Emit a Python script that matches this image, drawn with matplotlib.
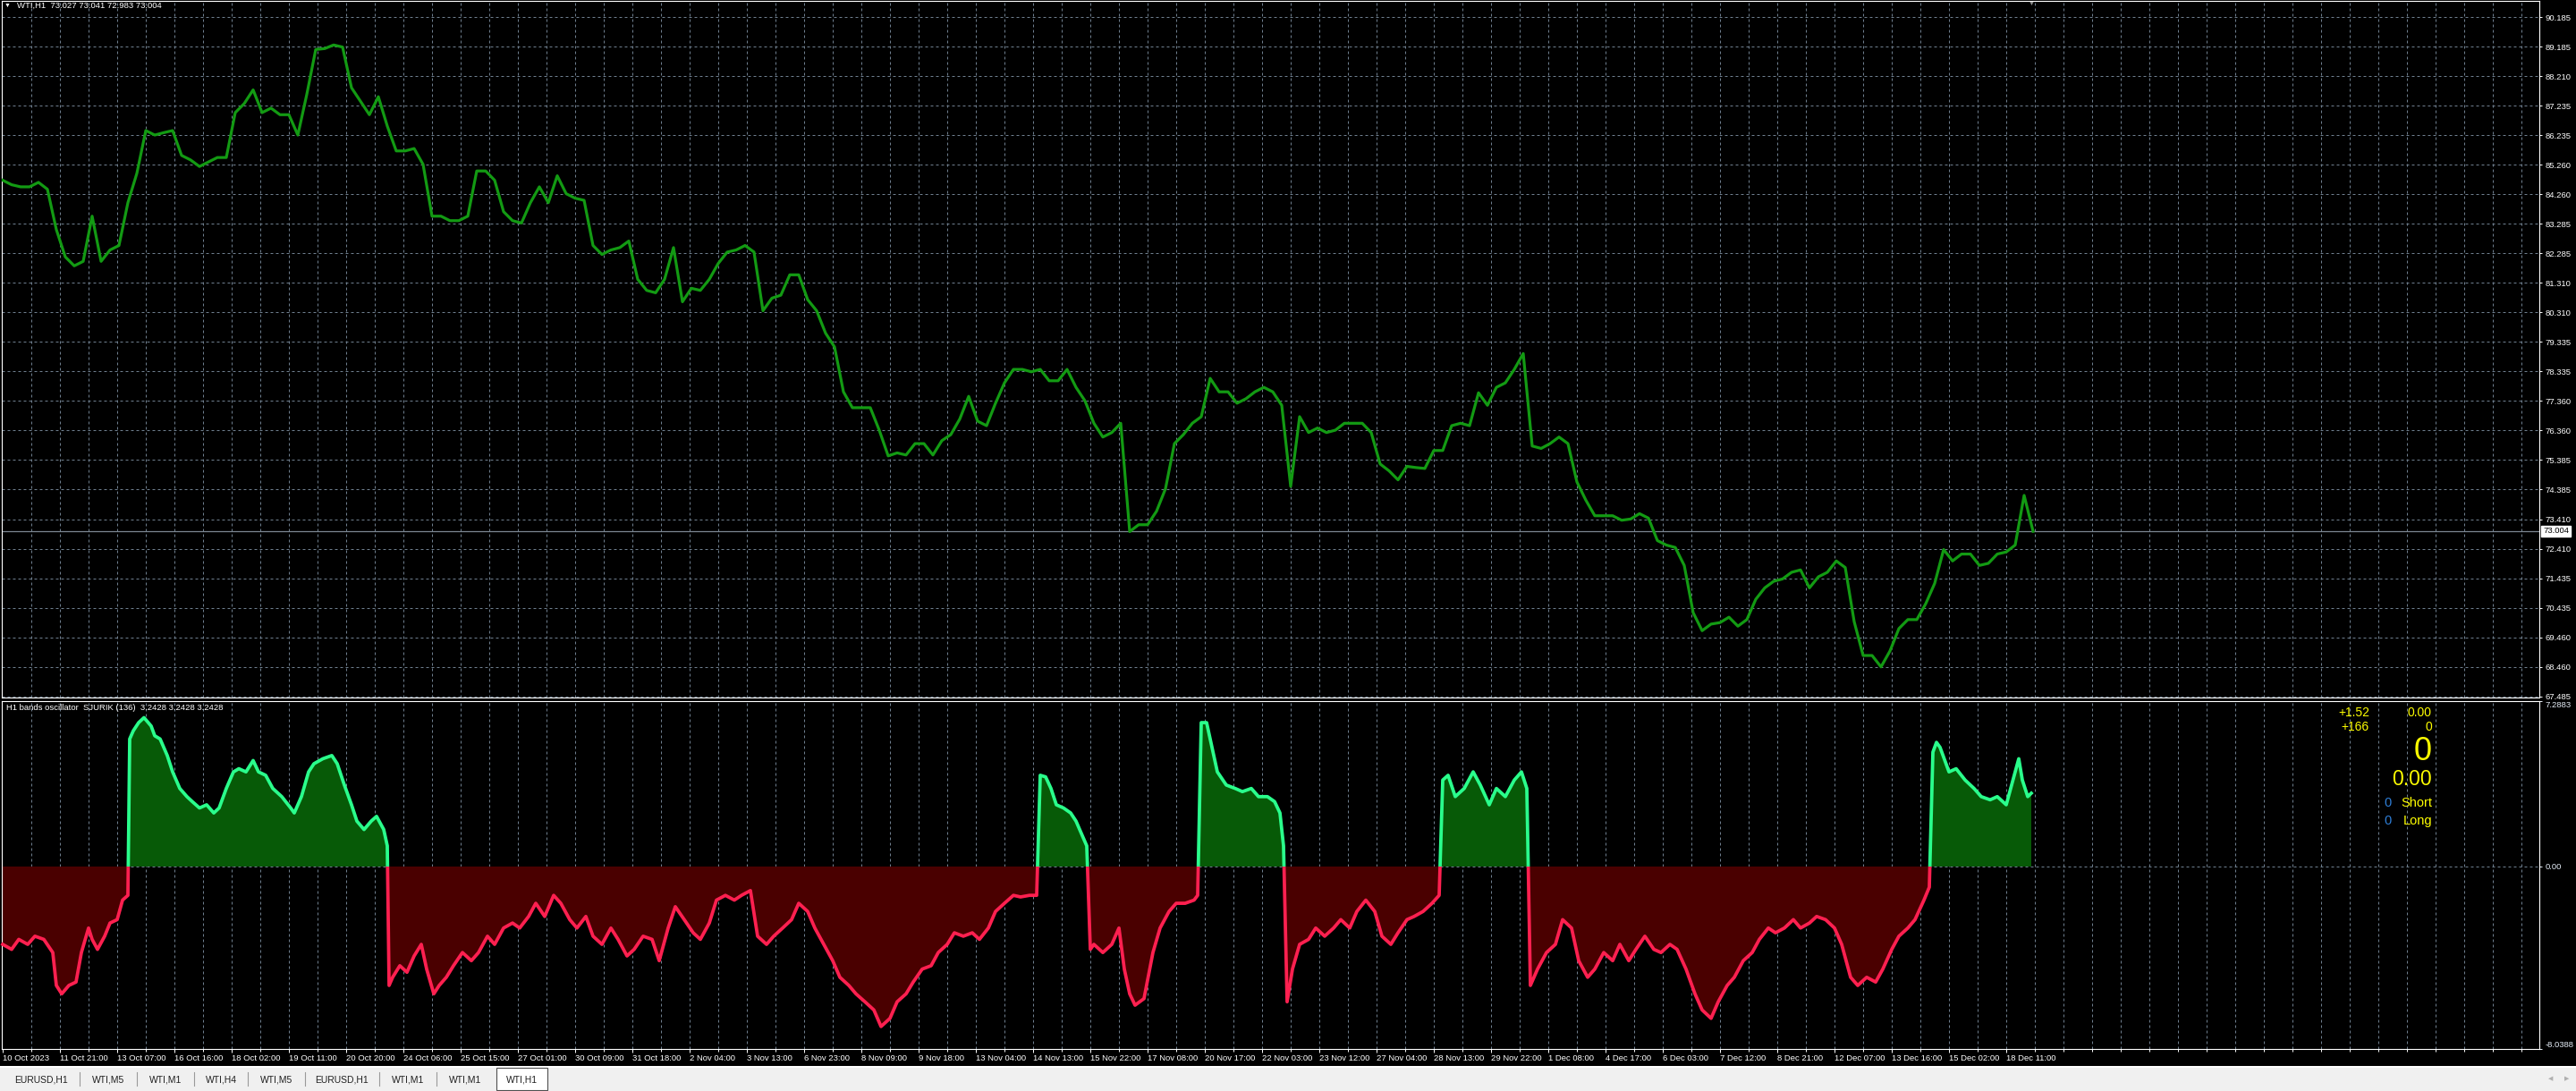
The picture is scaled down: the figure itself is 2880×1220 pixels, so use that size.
#import relevant libraries
import numpy as np
import matplotlib
matplotlib.use('Agg')
import matplotlib.pyplot as plt
from matplotlib.patches import Rectangle
from matplotlib.lines import Line2D

plt.rcParams['font.family'] = ['Liberation Sans', 'DejaVu Sans']

#price data, one value every 5 hourly bars
price_close = [
    84.73, 84.58, 84.51, 84.51, 84.66, 84.43, 83.08, 82.17, 81.87, 82.02,
    83.53, 82.02, 82.40, 82.55, 83.98, 84.96, 86.39, 86.24, 86.32, 86.39,
    85.56, 85.41, 85.19, 85.34, 85.49, 85.49, 86.99, 87.29, 87.75, 86.99,
    87.14, 86.92, 86.92, 86.24, 87.60, 89.10, 89.13, 89.25, 89.18, 87.82,
    87.37, 86.92, 87.52, 86.54, 85.71, 85.71, 85.79, 85.26, 83.53, 83.53,
    83.38, 83.38, 83.53, 85.04, 85.04, 84.73, 83.68, 83.38, 83.30, 83.98,
    84.51, 83.98, 84.88, 84.28, 84.13, 84.06, 82.55, 82.25, 82.40, 82.48,
    82.70, 81.42, 81.05, 80.97, 81.42, 82.48,
    80.67, 81.12, 81.05, 81.42, 81.95, 82.33, 82.40, 82.55, 82.33, 80.37,
    80.79, 80.89, 81.57, 81.57, 80.74, 80.37, 79.62, 79.16, 77.66, 77.13,
    77.13, 77.13, 76.38, 75.52, 75.62, 75.55, 75.93, 75.93, 75.55, 76.03,
    76.23, 76.75, 77.51, 76.68, 76.53, 77.28, 77.96, 78.41, 78.41, 78.33,
    78.41, 78.03, 78.03, 78.41, 77.81, 77.36, 76.61, 76.15, 76.30, 76.61,
    72.99, 73.22, 73.22, 73.67, 74.42, 75.93, 76.23, 76.61, 76.83, 78.11,
    77.66, 77.66, 77.28, 77.43, 77.66, 77.81, 77.66, 77.21, 74.50, 76.83,
    76.30, 76.45, 76.30, 76.38, 76.61, 76.61,
    76.61, 76.30, 75.25, 75.02, 74.72, 75.17, 75.13, 75.10, 75.70, 75.70,
    76.53, 76.61, 76.53, 77.63, 77.21, 77.81, 77.96, 78.41, 78.94, 75.85,
    75.77, 75.93, 76.15, 75.93, 74.65, 74.04, 73.52, 73.52, 73.52, 73.37,
    73.41, 73.59, 73.44, 72.69, 72.54, 72.46, 71.86, 70.28, 69.68, 69.90,
    69.95, 70.13, 69.83, 70.05, 70.73, 71.11, 71.33, 71.41, 71.63, 71.71,
    71.11, 71.48, 71.63, 72.01, 71.79, 69.98, 68.85, 68.85, 68.47, 69.00,
    69.75, 70.05, 70.05, 70.58, 71.26, 72.39, 72.01, 72.24, 72.24, 71.86,
    71.93, 72.24, 72.31, 72.54, 74.20, 73.00,
]
price_bars = np.arange(len(price_close)) * 5
last_price = 73.004

#oscillator data (bar index, value)
osc_bars = [
    0, 5, 9, 14, 18, 23, 28, 30, 33, 37,
    41, 44, 48, 50, 53, 57, 60, 64, 67, 70,
    71, 73, 76, 79, 83, 85, 88, 92, 95, 99,
    103, 106, 110, 114, 118, 121, 125, 129, 132, 136,
    140, 143, 147, 151, 156, 161, 163, 167, 171, 174,
    179, 184, 187, 191, 195, 198, 202, 206, 209, 213,
    215, 216, 218, 222, 226, 230, 234, 237, 241, 244,
    248, 252, 257, 262, 266, 271, 275, 280, 285, 289,
    294, 298, 303, 308, 312, 317, 321, 326, 330, 335,
    340, 344, 349, 353, 358, 363, 367, 372, 376, 381,
    386, 390, 395, 399, 404, 409, 413, 418, 422, 427,
    431, 436, 441, 445, 450, 454, 459, 464, 468, 473,
    477, 482, 487, 491, 496, 500, 505, 509, 514, 519,
    523, 528, 532, 537, 542, 546, 551, 555, 560, 565,
    569, 574, 578, 580, 583, 586, 589, 593, 597, 600,
    604, 606, 608, 610, 615, 620, 624, 627, 630, 633,
    638, 643, 647, 652, 656, 661, 666, 668, 670, 673,
    676, 679, 684, 689, 693, 698, 702, 707, 711, 714,
    716, 718, 721, 725, 730, 734, 739, 744, 748, 753,
    757, 762, 767, 771, 776, 780, 785, 789, 794, 799,
    803, 805, 808, 812, 817, 822, 826, 831, 835, 840,
    845, 849, 852, 854, 858, 863, 868, 872, 877, 881,
    886, 890, 895, 900, 904, 909, 913, 918, 923, 927,
    932, 936, 941, 946, 950, 955, 959, 964, 968, 973,
    978, 982, 987, 991, 996, 1001, 1005, 1010, 1014, 1019,
    1024, 1028, 1033, 1037, 1042, 1047, 1051, 1056, 1060, 1065,
    1069, 1074, 1077, 1079, 1081, 1083, 1088, 1092, 1097, 1102,
    1106, 1111, 1115, 1120, 1125, 1127, 1129, 1132, 1134,
]
osc_values = [
    -3.43, -3.65, -3.21, -3.43, -3.07, -3.21, -3.79, -5.24, -5.61, -5.24,
    -5.09, -3.79, -2.71, -3.21, -3.65, -3.07, -2.49, -2.34, -1.48, -1.27,
    5.62, 5.98, 6.34, 6.56, 6.19, 5.76, 5.62, 4.89, 4.17, 3.44,
    3.08, 2.86, 2.58, 2.72, 2.36, 2.58, 3.44, 4.17, 4.31, 4.17,
    4.67, 4.17, 4.02, 3.44, 3.08, 2.58, 2.36, 3.08, 4.17, 4.53,
    4.75, 4.89, 4.53, 3.59, 2.72, 2.00, 1.63, 2.00, 2.21, 1.63,
    0.91, -5.24, -4.88, -4.37, -4.66, -3.94, -3.43, -4.52, -5.61, -5.24,
    -4.88, -4.37, -3.79, -4.15, -3.79, -3.07, -3.43, -2.71, -2.49, -2.71,
    -2.20, -1.62, -2.20, -1.27, -1.62, -2.34, -2.71, -2.20, -3.07, -3.43,
    -2.71, -3.21, -3.94, -3.65, -3.07, -3.21, -4.15, -2.71, -1.77, -2.34,
    -2.92, -3.21, -2.49, -1.48, -1.27, -1.48, -1.27, -1.06, -3.07, -3.43,
    -3.07, -2.71, -2.34, -1.62, -1.98, -2.71, -3.43, -4.15, -4.88, -5.24,
    -5.61, -5.96, -6.32, -7.05, -6.69, -5.96, -5.61, -5.09, -4.52, -4.37,
    -3.79, -3.43, -2.92, -3.07, -2.92, -3.21, -2.71, -1.98, -1.62, -1.27,
    -1.34, -1.27, -1.27, 4.02, 3.95, 3.44, 2.72, 2.58, 2.36, 2.00,
    1.27, 0.91, -3.65, -3.43, -3.79, -3.43, -2.71, -4.52, -5.61, -6.11,
    -5.82, -3.79, -2.71, -1.98, -1.62, -1.62, -1.48, -1.27, 6.34, 6.34,
    5.25, 4.17, 3.59, 3.44, 3.30, 3.44, 3.08, 3.08, 2.86, 2.36,
    0.91, -5.96, -4.52, -3.43, -3.21, -2.71, -3.07, -2.71, -2.34, -2.71,
    -1.98, -1.48, -1.98, -3.07, -3.43, -2.92, -2.34, -2.20, -1.98, -1.62,
    -1.27, 3.81, 4.02, 3.08, 3.44, 4.17, 3.59, 2.72, 3.44, 3.08,
    3.81, 4.17, 3.44, -5.24, -4.52, -3.79, -3.43, -2.34, -2.71, -4.15,
    -4.88, -4.52, -3.79, -4.15, -3.43, -4.15, -3.65, -3.07, -3.65, -3.79,
    -3.43, -3.65, -4.52, -5.61, -6.32, -6.69, -5.96, -5.24, -4.88, -4.15,
    -3.79, -3.21, -2.71, -2.92, -2.71, -2.34, -2.71, -2.49, -2.20, -2.34,
    -2.71, -3.43, -4.88, -5.24, -4.88, -5.09, -4.52, -3.65, -3.07, -2.71,
    -2.34, -1.48, -0.91, 5.04, 5.47, 5.25, 4.17, 4.31, 3.81, 3.44,
    3.08, 2.94, 3.08, 2.72, 4.17, 4.75, 3.81, 3.08, 3.23,
]
osc_max = 7.2883
osc_min = -8.0388

#axis labels
price_tick_labels = ['67.485', '68.460', '69.460', '70.435', '71.435', '72.410',
                     '73.410', '74.385', '75.385', '76.360', '77.360', '78.335',
                     '79.335', '80.310', '81.310', '82.285', '83.285', '84.260',
                     '85.260', '86.235', '87.235', '88.210', '89.185', '90.185']
time_labels = ['10 Oct 2023', '11 Oct 21:00', '13 Oct 07:00', '16 Oct 16:00', '18 Oct 02:00',
               '19 Oct 11:00', '20 Oct 20:00', '24 Oct 06:00', '25 Oct 15:00', '27 Oct 01:00',
               '30 Oct 09:00', '31 Oct 18:00', '2 Nov 04:00', '3 Nov 13:00', '6 Nov 23:00',
               '8 Nov 09:00', '9 Nov 18:00', '13 Nov 04:00', '14 Nov 13:00', '15 Nov 22:00',
               '17 Nov 08:00', '20 Nov 17:00', '22 Nov 03:00', '23 Nov 12:00', '27 Nov 04:00',
               '28 Nov 13:00', '29 Nov 22:00', '1 Dec 08:00', '4 Dec 17:00', '6 Dec 03:00',
               '7 Dec 12:00', '8 Dec 21:00', '12 Dec 07:00', '13 Dec 16:00', '15 Dec 02:00',
               '18 Dec 11:00']
tab_names = ['EURUSD,H1', 'WTI,M5', 'WTI,M1', 'WTI,H4', 'WTI,M5', 'EURUSD,H1', 'WTI,M1', 'WTI,M1', 'WTI,H1']

#pixel helpers
W, H = 2880, 1220
def fx(x):
    return x / W
def fy(y):
    return 1 - y / H

fig = plt.figure(figsize=(28.8, 12.2), dpi=100, facecolor='black')
ax_p = fig.add_axes([fx(2), fy(780), 2837 / W, 779 / H], facecolor='black')
ax_o = fig.add_axes([fx(2), fy(1173), 2837 / W, 389 / H], facecolor='black')

grid_color = '#6f7f8f'
grid_style = (0, (3, 3))

#price panel
ax_p.plot(price_bars, price_close, color='#139a13', lw=2.3, zorder=3)
ax_p.axhline(last_price, color='#7c8792', lw=0.9, zorder=2)
ax_p.set_xlim(-0.5, 1418)
ax_p.set_ylim(67.446, 90.723)
ax_p.yaxis.tick_right()
ax_p.set_yticks(np.linspace(67.485, 90.185, len(price_tick_labels)))
ax_p.set_yticklabels(price_tick_labels)
ax_p.set_xticks(np.arange(16, 1418, 16))
ax_p.tick_params(axis='x', bottom=False, labelbottom=False)
ax_p.tick_params(axis='y', colors='white', labelsize=6.8, length=2, width=0.7, pad=3)
ax_p.grid(True, color=grid_color, lw=0.72, linestyle=grid_style)
ax_p.set_axisbelow(True)
for sp in ax_p.spines.values():
    sp.set_color('white')
    sp.set_linewidth(0.8)
ax_p.text(1.0 + 4 / 2837, last_price, '73.004', transform=ax_p.get_yaxis_transform(),
          ha='left', va='center', fontsize=6.8, color='black',
          bbox=dict(boxstyle='square,pad=0.2', fc='white', ec='white'))

#oscillator panel
osc = np.array(osc_values)
ax_o.axhline(0, color=grid_color, lw=0.72, linestyle=grid_style, zorder=0)
ax_o.fill_between(osc_bars, osc, 0, where=osc >= 0, interpolate=True, color='#075a07', lw=0, zorder=1)
ax_o.fill_between(osc_bars, osc, 0, where=osc <= 0, interpolate=True, color='#4a0000', lw=0, zorder=1)
red_line, = ax_o.plot(osc_bars, osc, color='#ff2050', lw=2.7, zorder=3)
green_line, = ax_o.plot(osc_bars, osc, color='#2aff8c', lw=2.7, zorder=3)
green_line.set_clip_path(Rectangle((-10, 0), 2000, 20, transform=ax_o.transData))
red_line.set_clip_path(Rectangle((-10, -20), 2000, 20, transform=ax_o.transData))
ax_o.set_xlim(-0.5, 1418)
ax_o.set_ylim(osc_min, osc_max)
ax_o.set_xticks(np.arange(len(time_labels)) * 32)
ax_o.set_xticklabels(time_labels)
ax_o.set_xticks(np.arange(16, 1418, 16), minor=True)
ax_o.xaxis.remove_overlapping_locs = False
ax_o.grid(True, which='minor', axis='x', color=grid_color, lw=0.72, linestyle=grid_style)
ax_o.set_axisbelow(True)
ax_o.tick_params(axis='x', which='major', colors='white', labelsize=6.8, length=3, width=0.7, pad=1.5)
ax_o.tick_params(axis='x', which='minor', colors='white', length=2, width=0.7)
for lbl in ax_o.get_xticklabels():
    lbl.set_ha('left')
ax_o.yaxis.tick_right()
ax_o.set_yticks([osc_max, 0, osc_min])
ax_o.set_yticklabels(['7.2883', '0.00', '-8.0388'])
ax_o.tick_params(axis='y', colors='#e6eef8', labelsize=6.8, length=2, width=0.7, pad=3)
ylbls = ax_o.get_yticklabels()
ylbls[0].set_va('top')
ylbls[2].set_va('bottom')
for sp in ax_o.spines.values():
    sp.set_color('white')
    sp.set_linewidth(0.8)

#header texts
fig.text(fx(5), fy(6), '\u25bc', color='white', fontsize=5, va='center')
fig.text(fx(19), fy(6), 'WTI,H1  73.027 73.041 72.983 73.004', color='white', fontsize=6.8, va='center')
fig.text(fx(7), fy(792), 'H1 bands oscillator  SJURIK (136)  3.2428 3.2428 3.2428',
         color='white', fontsize=6.8, va='center')
fig.text(fx(2271), fy(1), '\u25bc', color='#909090', fontsize=5, ha='center', va='top')

#info block on the oscillator
yel = '#ffff00'
blu = '#2f7fd8'
fig.text(fx(2649), fy(797), '+1.52', color=yel, fontsize=10, ha='right', va='center')
fig.text(fx(2719), fy(797), '0.00', color=yel, fontsize=10, ha='right', va='center')
fig.text(fx(2649), fy(813), '+166', color=yel, fontsize=10, ha='right', va='center')
fig.text(fx(2719), fy(813), '0', color=yel, fontsize=10, ha='right', va='center')
fig.text(fx(2719), fy(841), '0', color=yel, fontsize=26, ha='right', va='center')
fig.text(fx(2719), fy(872), '0.00', color=yel, fontsize=16.5, ha='right', va='center')
fig.text(fx(2669), fy(898), '0', color=blu, fontsize=10.5, ha='center', va='center')
fig.text(fx(2719), fy(898), 'Short', color=yel, fontsize=10.5, ha='right', va='center')
fig.text(fx(2669), fy(918), '0', color=blu, fontsize=10.5, ha='center', va='center')
fig.text(fx(2719), fy(918), 'Long', color=yel, fontsize=10.5, ha='right', va='center')

#tab bar at the bottom
fig.add_artist(Rectangle((0, 0), 1, fy(1194), transform=fig.transFigure, fc='#f0f0f0', ec='none'))
fig.add_artist(Rectangle((0, fy(1194)), 1, 2 / H, transform=fig.transFigure, fc='white', ec='none'))
for xs in [89, 153, 217, 277, 341, 424, 488]:
    fig.add_artist(Line2D([fx(xs), fx(xs)], [fy(1199), fy(1214)], color='#9a9a9a', lw=0.8))
fig.add_artist(Rectangle((fx(555), fy(1219)), 57 / W, 25 / H, transform=fig.transFigure,
                         fc='white', ec='#505050', lw=0.8))
tab_x = [46, 121, 185, 247, 309, 382, 456, 520, 584]
for name, xc in zip(tab_names, tab_x):
    fig.text(fx(xc), fy(1207), name, color='#202020', fontsize=7.5, ha='center', va='center')
fig.text(fx(2852), fy(1207), '\u25c0', color='#b0b0b0', fontsize=5, ha='center', va='center')
fig.text(fx(2870), fy(1207), '\u25b6', color='#b0b0b0', fontsize=5, ha='center', va='center')

fig.savefig('out.png', dpi=100, facecolor='black')
